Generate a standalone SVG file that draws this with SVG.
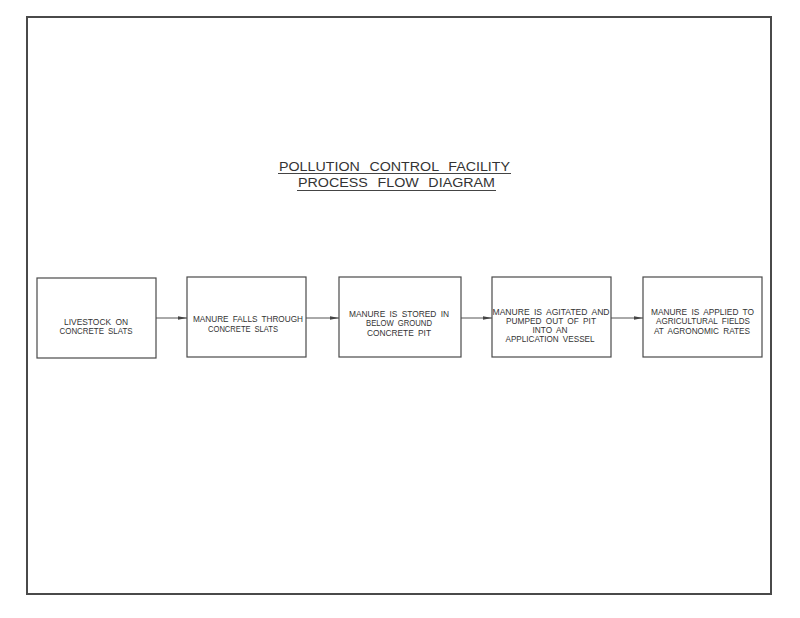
<svg xmlns="http://www.w3.org/2000/svg" width="800" height="618" viewBox="0 0 800 618">
<style>
.frame{fill:none;stroke:#4a4a4a;stroke-width:2}
.box{fill:#fff;stroke:#4a4a4a;stroke-width:1.2}
.t{font-family:"Liberation Sans",Arial,sans-serif;font-size:8.5px;fill:#333;text-anchor:middle;word-spacing:2px}
.title{font-family:"Liberation Sans",Arial,sans-serif;font-size:12.5px;fill:#333;text-anchor:middle;word-spacing:5px}
.ul{stroke:#444;stroke-width:1}
.conn{stroke:#555;stroke-width:1;fill:none}
</style>
<defs>
<marker id="ah" markerWidth="9" markerHeight="4" refX="9" refY="2" orient="auto" markerUnits="userSpaceOnUse">
<path d="M0,0.3 L9,2 L0,3.7 Z" fill="#444"/>
</marker>
</defs>
<rect width="800" height="618" fill="#fff"/>
<rect class="frame" x="27" y="17" width="744" height="577"/>
<g id="title">
<text class="title" x="394.5" y="171" textLength="231" lengthAdjust="spacingAndGlyphs">POLLUTION CONTROL FACILITY</text>
<line class="ul" x1="278" y1="173.5" x2="511" y2="173.5"/>
<text class="title" x="396.5" y="187" textLength="197" lengthAdjust="spacingAndGlyphs">PROCESS FLOW DIAGRAM</text>
<line class="ul" x1="297" y1="190.5" x2="496" y2="190.5"/>
</g>
<g id="connectors">
<line class="conn" x1="156" y1="318" x2="187" y2="318" marker-end="url(#ah)"/>
<line class="conn" x1="306" y1="318" x2="339" y2="318" marker-end="url(#ah)"/>
<line class="conn" x1="461" y1="318" x2="492" y2="318" marker-end="url(#ah)"/>
<line class="conn" x1="611" y1="318" x2="643" y2="318" marker-end="url(#ah)"/>
</g>
<g id="n1">
<rect class="box" x="37" y="278" width="119" height="80"/>
<text class="t" x="96" y="325" textLength="64" lengthAdjust="spacingAndGlyphs">LIVESTOCK ON</text>
<text class="t" x="96" y="334" textLength="73" lengthAdjust="spacingAndGlyphs">CONCRETE SLATS</text>
</g>
<g id="n2">
<rect class="box" x="187" y="277" width="119" height="80"/>
<text class="t" x="248" y="322" textLength="110" lengthAdjust="spacingAndGlyphs">MANURE FALLS THROUGH</text>
<text class="t" x="243" y="332" textLength="70" lengthAdjust="spacingAndGlyphs">CONCRETE SLATS</text>
</g>
<g id="n3">
<rect class="box" x="339" y="277" width="122" height="80"/>
<text class="t" x="399" y="317" textLength="100" lengthAdjust="spacingAndGlyphs">MANURE IS STORED IN</text>
<text class="t" x="399" y="326" textLength="66" lengthAdjust="spacingAndGlyphs">BELOW GROUND</text>
<text class="t" x="399" y="335.5" textLength="64" lengthAdjust="spacingAndGlyphs">CONCRETE PIT</text>
</g>
<g id="n4">
<rect class="box" x="492" y="277" width="119" height="80"/>
<text class="t" x="551" y="315" textLength="117" lengthAdjust="spacingAndGlyphs">MANURE IS AGITATED AND</text>
<text class="t" x="551" y="324" textLength="90" lengthAdjust="spacingAndGlyphs">PUMPED OUT OF PIT</text>
<text class="t" x="550" y="333" textLength="35" lengthAdjust="spacingAndGlyphs">INTO AN</text>
<text class="t" x="550" y="342" textLength="89" lengthAdjust="spacingAndGlyphs">APPLICATION VESSEL</text>
</g>
<g id="n5">
<rect class="box" x="643" y="277" width="119" height="80"/>
<text class="t" x="702.5" y="315" textLength="103" lengthAdjust="spacingAndGlyphs">MANURE IS APPLIED TO</text>
<text class="t" x="703" y="324" textLength="94" lengthAdjust="spacingAndGlyphs">AGRICULTURAL FIELDS</text>
<text class="t" x="702" y="333.5" textLength="96" lengthAdjust="spacingAndGlyphs">AT AGRONOMIC RATES</text>
</g>
</svg>
